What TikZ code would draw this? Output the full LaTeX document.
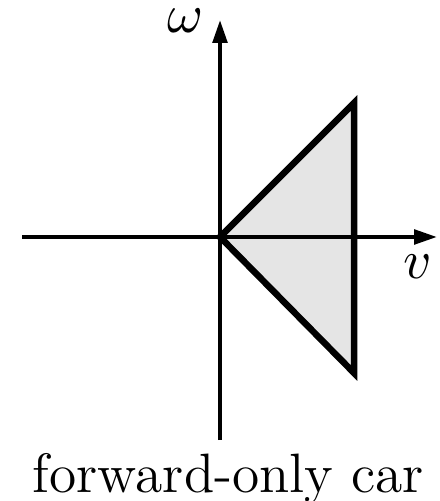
\documentclass[tikz,border=0pt]{standalone}
\usetikzlibrary{arrows.meta}
\begin{document}
\begin{tikzpicture}[x=0.2pt,y=-0.2pt,
  axis/.style={line width=0.8pt,-{Triangle[length=4.6pt,width=2.9pt]}},
  region/.style={line width=1.3pt,line join=miter},
  lbl/.style={inner sep=0pt,font=\fontsize{11.1}{13}\selectfont}]
\useasboundingbox (0,0) rectangle (439,501);
\coordinate (O) at (220,237);
\coordinate (A) at (354,103);
\coordinate (B) at (354,373);
\coordinate (xs) at (22,237);
\coordinate (xe) at (437,237);
\coordinate (ys) at (220,440);
\coordinate (ye) at (220,20);
\fill[black!10] (O) -- (A) -- (B) -- cycle;
\draw[axis] (xs) -- (xe);
\draw[axis] (ys) -- (ye);
\draw[region] (O) -- (A) -- (B) -- cycle;
\node[lbl] (w) at (186,21) {$\omega$};
\node[lbl] (v) at (418,267) {$v$};
\node[lbl,anchor=base] (cap) at (228.5,492) {forward-only car};
\end{tikzpicture}
\end{document}
